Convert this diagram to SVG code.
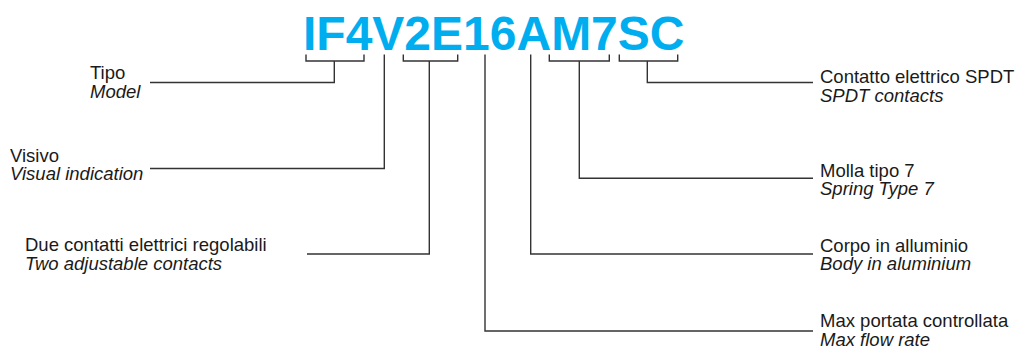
<svg xmlns="http://www.w3.org/2000/svg" width="1019" height="350" viewBox="0 0 1019 350">
<style>
.t{font-family:"Liberation Sans",Arial,sans-serif;font-size:18.5px;fill:#1a1a1a}
.i{font-style:italic}
.c{fill:none;stroke:#333;stroke-width:1.4}
.code{font-family:"Liberation Sans",Arial,sans-serif;font-weight:bold;font-size:48px;fill:#00aeef}
</style>
<rect width="1019" height="350" fill="#fff"/>
<g id="code"><text class="code" x="303" y="50">IF4V2E16AM7SC</text></g>
<g id="connectors">
<path class="c" d="M306,54.5V61H364V54.5M334.3,61V82.5H150"/>
<path class="c" d="M384.3,54.5V168.5H150"/>
<path class="c" d="M403.3,54.5V61H457.7V54.5M429.3,61V254H307"/>
<path class="c" d="M485,54.5V331H813"/>
<path class="c" d="M530.7,54.5V254H813"/>
<path class="c" d="M549.3,54.5V61H609.3V54.5M579.3,61V178.3H813"/>
<path class="c" d="M619.3,54.5V61H677.7V54.5M647.3,61V82.5H813"/>
</g>
<g id="tipo"><text class="t" x="90" y="79.3">Tipo</text><text class="t i" x="90" y="98">Model</text></g>
<g id="visivo"><text class="t" x="10" y="161.7">Visivo</text><text class="t i" x="10" y="180">Visual indication</text></g>
<g id="due"><text class="t" x="25" y="250.7">Due contatti elettrici regolabili</text><text class="t i" x="25" y="269.5">Two adjustable contacts</text></g>
<g id="spdt"><text class="t" x="820" y="83.3">Contatto elettrico SPDT</text><text class="t i" x="820" y="101.8">SPDT contacts</text></g>
<g id="molla"><text class="t" x="820" y="176.7">Molla tipo 7</text><text class="t i" x="820" y="195.2">Spring Type 7</text></g>
<g id="corpo"><text class="t" x="820" y="251.7">Corpo in alluminio</text><text class="t i" x="820" y="270.2">Body in aluminium</text></g>
<g id="max"><text class="t" x="820" y="327">Max portata controllata</text><text class="t i" x="820" y="345.5">Max flow rate</text></g>
</svg>
